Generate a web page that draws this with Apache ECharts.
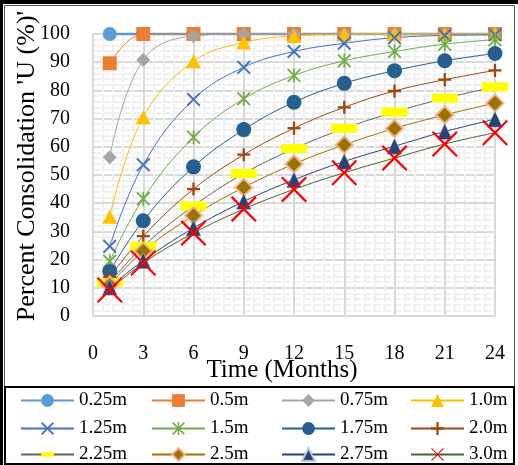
<!DOCTYPE html>
<html><head><meta charset="utf-8">
<script src="https://cdn.jsdelivr.net/npm/echarts@6/dist/echarts.min.js"></script>
<style>html,body{margin:0;padding:0;background:#fff}#c{width:518px;height:465px}</style>
</head><body><div id="c"></div>
<script>
// ---- data ----
const months = [1, 3, 6, 9, 12, 15, 18, 21, 24];
const xTicks = [0, 3, 6, 9, 12, 15, 18, 21, 24];
const yTicks = [0, 10, 20, 30, 40, 50, 60, 70, 80, 90, 100];
const names = ['0.25m', '0.5m', '0.75m', '1.0m', '1.25m', '1.5m', '1.75m', '2.0m', '2.25m', '2.5m', '2.75m', '3.0m'];
const u025 = [100, 100, 100, 100, 100, 100, 100, 100, 100];
const u050 = [89.6, 100, 100, 100, 100, 100, 100, 100, 100];
const u075 = [56.3, 90.8, 99.3, 100, 100, 100, 100, 100, 100];
const u100 = [35.2, 70.5, 90.3, 97.0, 99.3, 99.8, 100, 100, 100];
const u125 = [24.7, 53.6, 76.8, 88.2, 93.8, 96.7, 98.7, 99.5, 99.7];
const u150 = [19.4, 41.6, 63.4, 77.0, 85.3, 90.5, 93.8, 96.4, 98.0];
const u175 = [15.8, 33.8, 52.9, 66.1, 75.8, 82.5, 87.0, 90.5, 93.1];
const u200 = [13.8, 28.3, 45.0, 57.2, 66.6, 74.0, 79.8, 83.8, 87.1];
const u225 = [11.8, 24.7, 39.0, 50.5, 59.3, 66.5, 72.3, 77.2, 81.2];
const u250 = [11.0, 23.0, 35.6, 45.6, 53.9, 60.7, 66.5, 71.3, 75.5];
const u275 = [10.2, 19.6, 31.2, 40.6, 48.3, 54.8, 60.2, 65.4, 69.8];
const u300 = [9.2, 18.8, 29.4, 37.9, 44.9, 50.8, 56.0, 61.0, 65.0];
const values = [u025, u050, u075, u100, u125, u150, u175, u200, u225, u250, u275, u300];

// ---- styles ----
const X_THICK = 'path://M0,10L10,0L50,40L90,0L100,10L60,50L100,90L90,100L50,60L10,100L0,90L40,50Z';
const X_THIN = 'path://M0,6L6,0L50,44L94,0L100,6L56,50L100,94L94,100L50,56L6,100L0,94L44,50Z';
const ASTER = 'path://M0,9L9,0L50,41L91,0L100,9L59,50L100,91L91,100L50,59L9,100L0,91L41,50Z M44,0L56,0L56,100L44,100Z';
const PLUS = 'path://M41,0L59,0L59,41L100,41L100,59L59,59L59,100L41,100L41,59L0,59L0,41L41,41Z';
const BAR = 'path://M0,0L0,0M0,32L100,32L100,67L0,67ZM100,100L100,100';
const styles = [
  {line: '#5b9bd5', lw: 2.5, sym: 'circle', size: 14, fill: '#5b9bd5'},
  {line: '#ed7d31', lw: 1, sym: 'rect', size: 14, fill: '#ed7d31'},
  {line: '#a5a5a5', lw: 1, sym: 'diamond', size: 14, fill: '#a5a5a5'},
  {line: '#ffc000', lw: 1, sym: 'triangle', size: [15, 14], fill: '#ffc000'},
  {line: '#4472c4', lw: 1, sym: X_THICK, size: 14, fill: '#4472c4'},
  {line: '#70ad47', lw: 1, sym: ASTER, size: 14, fill: '#70ad47'},
  {line: '#255e91', lw: 1, sym: 'circle', size: 15, fill: '#255e91'},
  {line: '#9e480e', lw: 1, sym: PLUS, size: 13, fill: '#9e480e'},
  {line: '#636363', lw: 1, sym: BAR, size: 26, fill: '#ffff00'},
  {line: '#997300', lw: 1, sym: 'diamond', size: 17, fill: '#997300', border: '#f4b183', bw: 2},
  {line: '#264478', lw: 1, sym: 'triangle', size: [15, 16], fill: '#264478', border: '#b4c7e7', bw: 0.5},
  {line: '#43682b', lw: 1, sym: X_THIN, size: 26, fill: '#ff0000'}
];

const FONT = 'Liberation Serif';
const series = names.map((n, i) => ({
  name: n,
  type: 'line',
  smooth: 0.4,
  clip: false,
  data: months.map((m, j) => [m, values[i][j]]),
  symbol: styles[i].sym,
  symbolSize: styles[i].size,
  showSymbol: true,
  lineStyle: {color: styles[i].line, width: styles[i].lw},
  itemStyle: {color: styles[i].fill, borderColor: styles[i].border || styles[i].fill, borderWidth: styles[i].bw || 0, opacity: 1},
  emphasis: {disabled: true},
  animation: false
}));

const colX = [20, 151, 281, 410];
const rowY = [391, 419, 445];
const legends = names.map((n, i) => ({
  orient: 'horizontal',
  left: colX[i % 4], top: rowY[Math.floor(i / 4)],
  padding: 0,
  itemWidth: 53, itemHeight: 16,
  selectedMode: false,
  textStyle: {fontFamily: FONT, fontSize: 19, color: '#000'},
  data: [n]
}));

const chart = echarts.init(document.getElementById('c'), null, {renderer: 'canvas'});
chart.setOption({
  backgroundColor: '#fff',
  animation: false,
  grid: {left: 93, right: 23, top: 34, bottom: 149, containLabel: false},
  xAxis: {
    type: 'value', min: xTicks[0], max: xTicks[xTicks.length - 1], interval: 3,
    axisLine: {show: true, lineStyle: {color: '#d9d9d9', width: 2}},
    axisTick: {show: false},
    axisLabel: {fontFamily: FONT, fontSize: 20, color: '#000', margin: 28},
    splitLine: {show: true, lineStyle: {color: '#d9d9d9', width: 2}},
    minorTick: {show: false, splitNumber: 5},
    minorSplitLine: {show: true, lineStyle: {color: '#f0f0f0', width: 2, type: [8, 2]}}
  },
  yAxis: {
    type: 'value', min: yTicks[0], max: yTicks[yTicks.length - 1], interval: 10,
    axisLine: {show: true, lineStyle: {color: '#d9d9d9', width: 2}},
    axisTick: {show: false},
    axisLabel: {fontFamily: FONT, fontSize: 20, color: '#000', margin: 23},
    splitLine: {show: true, lineStyle: {color: '#d9d9d9', width: 2}},
    minorTick: {show: false, splitNumber: 5},
    minorSplitLine: {show: true, lineStyle: {color: '#f0f0f0', width: 2, type: [8, 2]}}
  },
  legend: legends,
  series: series,
  graphic: [
    {type: 'rect', shape: {x: 0, y: 0, width: 3, height: 465}, style: {fill: '#000'}},
    {type: 'rect', shape: {x: 0, y: 0, width: 518, height: 4}, style: {fill: '#000'}},
    {type: 'rect', shape: {x: 4.5, y: 5.5, width: 510, height: 381}, style: {fill: 'none', stroke: '#555', lineWidth: 1}},
    {type: 'rect', shape: {x: 5, y: 387, width: 509, height: 77}, style: {fill: 'none', stroke: '#000', lineWidth: 2}},
    {type: 'text', x: 27, y: 166, rotation: Math.PI / 2,
     style: {text: "Percent Consolidation 'U (%)'", font: '26px "Liberation Serif"', fill: '#000', align: 'center', verticalAlign: 'middle', textAlign: 'center', textVerticalAlign: 'middle'}},
    {type: 'text', x: 282, y: 370,
     style: {text: 'Time (Months)', font: '25px "Liberation Serif"', fill: '#000', align: 'center', verticalAlign: 'middle', textAlign: 'center', textVerticalAlign: 'middle'}}
  ]
});
</script>
</body></html>
